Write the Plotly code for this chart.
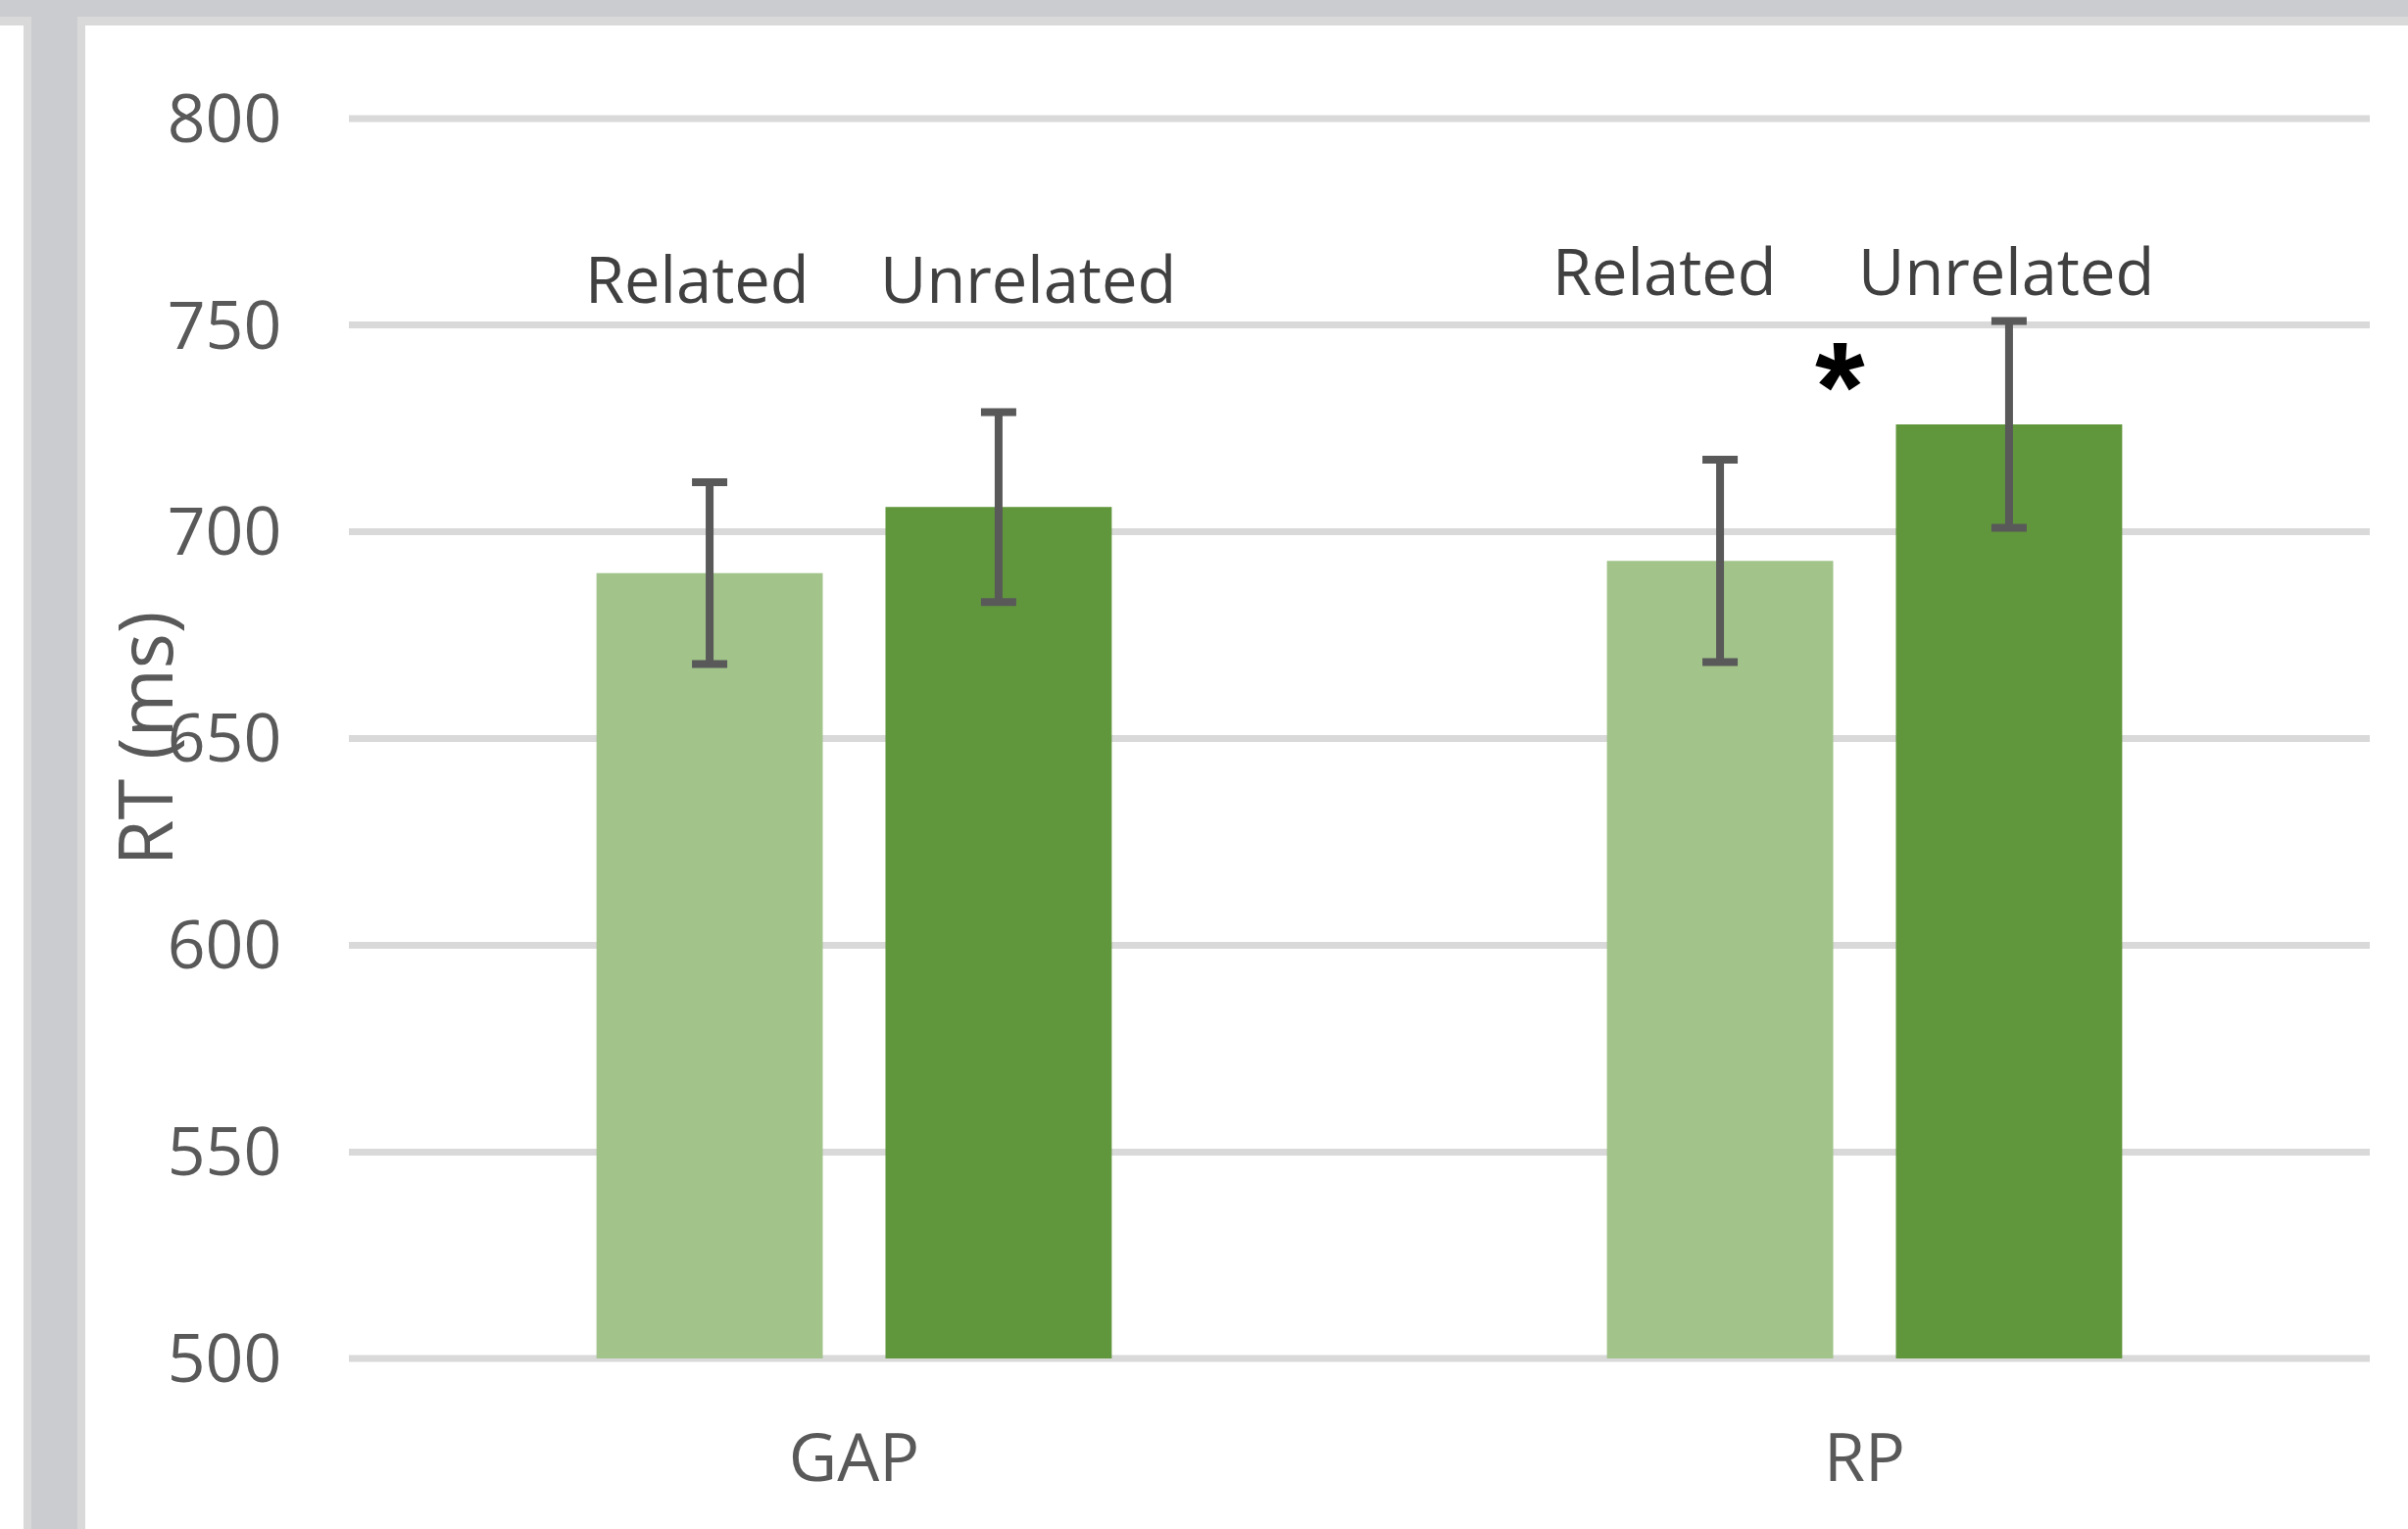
import plotly.graph_objects as go

# ---- data -------------------------------------------------------------
groups = ["GAP", "RP"]
series_names = ["Related", "Unrelated"]
rt_related = [690, 693]
rt_unrelated = [706, 726]
err_related = [22, 24.5]
err_unrelated = [23, 25]
y_ticks = [500, 550, 600, 650, 700, 750, 800]

# ---- page geometry ----------------------------------------------------
W, H = 2457, 1560
ML, MR, MT, MB = 356, 39, 121, 174
PW, PH = W - ML - MR, H - MT - MB

FONT = "Open Sans, Noto Sans, Liberation Sans, sans-serif"
TXT = "#595959"
GRID = "#d9d9d9"
LIGHT_GREEN = "#a2c48b"
DARK_GREEN = "#61973c"
ERR = "#595959"


def px_x(px):
    return (px - ML) / PW


def px_y(py):
    return (H - MB - py) / PH


fig = go.Figure()
fig.add_trace(go.Bar(
    x=groups, y=rt_related, name=series_names[0],
    marker=dict(color=LIGHT_GREEN, line=dict(width=0)),
    error_y=dict(type="data", array=err_related, color=ERR, thickness=8, width=18),
))
fig.add_trace(go.Bar(
    x=groups, y=rt_unrelated, name=series_names[1],
    marker=dict(color=DARK_GREEN, line=dict(width=0)),
    error_y=dict(type="data", array=err_unrelated, color=ERR, thickness=8, width=18),
))

# condition labels above each bar pair
label_pos = [
    (series_names[0], -0.155, 761.3),
    (series_names[1], 0.172, 761.3),
    (series_names[0], 0.802, 763.3),
    (series_names[1], 1.140, 763.3),
]
annotations = []
for text, xv, yv in label_pos:
    annotations.append(dict(
        x=xv, y=yv, xref="x", yref="y", text=text, showarrow=False,
        xanchor="center", yanchor="middle",
        font=dict(family=FONT, size=65, color="#404040"),
    ))

# significance marker between the RP bars
annotations.append(dict(
    x=0.976, y=735, xref="x", yref="y", text="<b>*</b>", showarrow=False,
    xanchor="center", yanchor="middle",
    font=dict(family="Liberation Sans, Arial, sans-serif", size=130, color="#000000"),
))

# y-axis title
annotations.append(dict(
    x=px_x(146), y=0.5, xref="paper", yref="paper", text="RT (ms)",
    showarrow=False, textangle=-90, xanchor="center", yanchor="middle",
    font=dict(family=FONT, size=76, color=TXT),
))

# window frame around the chart
shapes = []
frame = [
    (0, 0, W, 26, GRID),
    (24, 0, 87, H, GRID),
    (0, 0, W, 17, "#cbcccf"),
    (32, 0, 79, H, "#cbcccf"),
]
for x0, y0, x1, y1, col in frame:
    shapes.append(dict(
        type="rect", xref="paper", yref="paper",
        x0=px_x(x0), x1=px_x(x1), y0=px_y(y1), y1=px_y(y0),
        fillcolor=col, line=dict(width=0), layer="below",
    ))

# gridlines on the bottom and top edges of the plot area (unclipped)
for yp in (0, 1):
    shapes.append(dict(
        type="line", xref="paper", yref="paper", x0=0, x1=1, y0=yp, y1=yp,
        line=dict(color=GRID, width=7), layer="below",
    ))

fig.update_layout(
    width=W, height=H,
    margin=dict(l=ML, r=MR, t=MT, b=MB, autoexpand=False),
    paper_bgcolor="white", plot_bgcolor="white",
    barmode="group", bargap=0.428, bargroupgap=0.217,
    showlegend=False,
    font=dict(family=FONT, color=TXT),
    annotations=annotations,
    shapes=shapes,
)
fig.update_xaxes(
    showgrid=False, showline=False, zeroline=False,
    ticks="outside", ticklen=42, tickcolor="rgba(0,0,0,0)",
    tickfont=dict(family=FONT, size=68, color=TXT),
)
fig.update_yaxes(
    range=[y_ticks[0], y_ticks[-1]], tickvals=y_ticks,
    showgrid=True, gridcolor=GRID, gridwidth=7,
    showline=False, zeroline=False,
    ticks="outside", ticklen=54, tickcolor="rgba(0,0,0,0)",
    tickfont=dict(family=FONT, size=68, color=TXT),
)

fig.write_html("out.html")
